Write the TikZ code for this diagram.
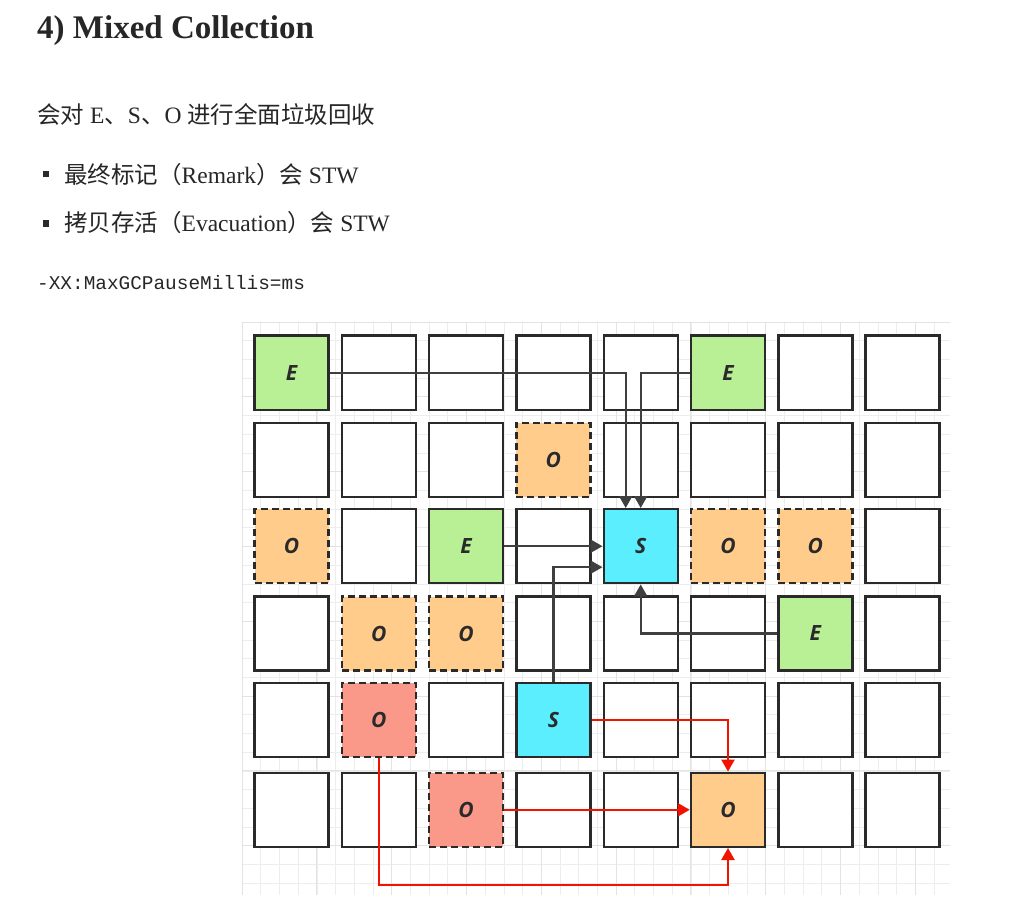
\documentclass[tikz,border=0pt]{standalone}
\usepackage{fontspec}
\setmainfont{Liberation Serif}
\setmonofont{Liberation Mono}
\newfontfamily\cjk{Noto Sans CJK SC}
\newfontfamily\cellfont{Open Sans}
\usetikzlibrary{arrows.meta}
\definecolor{ink}{HTML}{2A2A2A}
\definecolor{edenc}{HTML}{B9F096}
\definecolor{survc}{HTML}{5AEEFF}
\definecolor{oldc}{HTML}{FFCC8C}
\definecolor{deadc}{HTML}{FA988A}
\definecolor{redln}{HTML}{F01400}
\tikzset{
  cel/.style={draw=ink, line width=2.4pt, minimum size=74pt, inner sep=0pt, fill=white,
    font=\cellfont\bfseries\itshape\fontsize{21}{21}\selectfont, text=ink},
  eden/.style={fill=edenc},
  surv/.style={fill=survc},
  old/.style={fill=oldc, dash pattern=on 7pt off 4pt},
  dead/.style={fill=deadc, dash pattern=on 7pt off 4pt},
  tgt/.style={fill=oldc},
  arr/.style={-{Triangle[length=12pt,width=13pt]}, line width=2.2pt, draw=ink!90},
  rarr/.style={arr, draw=redln},
  body/.style={anchor=base west, inner sep=0pt, text=black!85, font=\fontsize{23.5}{23.5}\selectfont},
  bul/.style={fill=ink, inner sep=0pt, minimum size=6.5pt},
  grd/.style={line width=0.6pt, black!7},
  grdm/.style={line width=0.8pt, black!11},
}
\begin{document}
\begin{tikzpicture}[x=1pt,y=-1pt]
  \useasboundingbox (0,0) rectangle (1034,901);
  \fill[white] (0,0) rectangle (1034,901);

  % text above the diagram
  \node[body, font=\bfseries\fontsize{33}{33}\selectfont, text=black!85] (title) at (37,39) {4) Mixed Collection};
  \node[body] (lead) at (37,124) {{\cjk 会对} E{\cjk 、}S{\cjk 、}O {\cjk 进行全面垃圾回收}};
  \node[bul] (b1) at (45.8,173.8) {};
  \node[body] (t1) at (64,184) {{\cjk 最终标记（}Remark{\cjk ）会} STW};
  \node[bul] (b2) at (45.8,223.3) {};
  \node[body] (t2) at (64,232) {{\cjk 拷贝存活（}Evacuation{\cjk ）会} STW};
  \node[body, font=\ttfamily\fontsize{19.4}{19.4}\selectfont] (flag) at (37,290) {-XX:MaxGCPauseMillis=ms};

  % background grid
  \foreach \i in {0,...,37} \draw[grd] ({242+18.7*\i},322) -- ({242+18.7*\i},895);
  \foreach \j in {0,...,30} \draw[grd] (242,{322+18.7*\j}) -- (950,{322+18.7*\j});
  \foreach \i in {0,4,...,36} \draw[grdm] ({242+18.7*\i},322) -- ({242+18.7*\i},895);
  \foreach \j in {0,4,...,28} \draw[grdm] (242,{322+18.7*\j}) -- (950,{322+18.7*\j});

  % empty regions
  \foreach \r/\y/\cols in {1/372.7/{2,3,4,5,7,8}, 2/460.2/{1,2,3,5,6,7,8}, 3/546.2/{2,4,8},
                          4/633.5/{1,4,5,6,8}, 5/719.8/{1,3,5,6,7,8}, 6/809.8/{1,2,4,5,7,8}}
    \foreach \c in \cols
      \node[cel] (c\r\c) at ({291.5+87.3*(\c-1)},\y) {};

  % used regions
  \node[cel,eden] (c11) at (291.5,372.7) {E};
  \node[cel,eden] (c16) at (728.0,372.7) {E};
  \node[cel,old]  (c24) at (553.4,460.2) {O};
  \node[cel,old]  (c31) at (291.5,546.2) {O};
  \node[cel,eden] (c33) at (466.1,546.2) {E};
  \node[cel,surv] (c35) at (640.7,546.2) {S};
  \node[cel,old]  (c36) at (728.0,546.2) {O};
  \node[cel,old]  (c37) at (815.3,546.2) {O};
  \node[cel,old]  (c42) at (378.8,633.5) {O};
  \node[cel,old]  (c43) at (466.1,633.5) {O};
  \node[cel,eden] (c47) at (815.3,633.5) {E};
  \node[cel,dead] (c52) at (378.8,719.8) {O};
  \node[cel,surv] (c54) at (553.4,719.8) {S};
  \node[cel,dead] (c63) at (466.1,809.8) {O};
  \node[cel,tgt]  (c66) at (728.0,809.8) {O};

  % copy into survivor
  \draw[arr] (c11.east) -| ([xshift=-15pt]c35.north);
  \draw[arr] (c16.west) -| (c35.north);
  \draw[arr] (c33.east) -- (c35.west);
  \draw[arr] (c54.north) |- ([yshift=-21pt]c35.west);
  \draw[arr] (c47.west) -| (c35.south);

  % copy into old
  \draw[rarr] (c54.east) -| (c66.north);
  \draw[rarr] (c63.east) -- (c66.west);
  \draw[rarr] (c52.south) |- ([yshift=-36.7pt]c66.south) -- (c66.south);
\end{tikzpicture}
\end{document}
